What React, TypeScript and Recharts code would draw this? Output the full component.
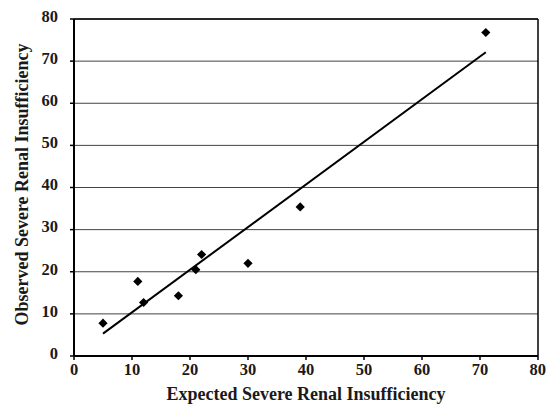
import { ScatterChart, Scatter, XAxis, YAxis, CartesianGrid, ReferenceLine, Label } from "recharts";

const EXPECTED = [5, 11, 12, 18, 21, 22, 30, 39, 71];
const OBSERVED = [7.8, 17.7, 12.7, 14.3, 20.5, 24.1, 22.0, 35.4, 76.8];

const FIT_X = [5, 71];
const FIT_Y = [5.3, 72.1];

const TICKS = [0, 10, 20, 30, 40, 50, 60, 70, 80];

const FONT = "'Liberation Serif', 'DejaVu Serif', serif";

const points = EXPECTED.map((x, i) => ({ x, y: OBSERVED[i] }));
const fit = FIT_X.map((x, i) => ({ x, y: FIT_Y[i] }));

function Diamond(props: any) {
  const { cx, cy } = props;
  const r = 4.6;
  return <polygon points={`${cx},${cy - r} ${cx + r},${cy} ${cx},${cy + r} ${cx - r},${cy}`} fill="#000" />;
}

function YTitle(props: any) {
  const { viewBox } = props;
  const cx = 22;
  const cy = viewBox.y + viewBox.height / 2 - 3;
  return (
    <text
      x={cx}
      y={cy}
      transform={`rotate(-90, ${cx}, ${cy})`}
      textAnchor="middle"
      dominantBaseline="central"
      fontFamily={FONT}
      fontWeight="bold"
      fontSize={18}
      fill="#1a1a1a"
    >
      Observed Severe Renal Insufficiency
    </text>
  );
}

export default function App() {
  const tickStyle = { fill: "#1a1a1a", fontSize: 16.5, fontWeight: "bold" as const, fontFamily: FONT };
  return (
    <div style={{ position: "absolute", left: 0, top: 0, background: "#fff" }}>
      <ScatterChart width={546} height={406} margin={{ top: 19, right: 8, left: 0, bottom: 0 }}>
        <CartesianGrid vertical={false} stroke="#444" strokeWidth={1} horizontalValues={TICKS} />
        <XAxis
          type="number"
          dataKey="x"
          domain={[0, 80]}
          ticks={TICKS}
          height={50}
          stroke="#000"
          axisLine={{ stroke: "#000", strokeWidth: 2 }}
          tickLine={{ stroke: "#000", strokeWidth: 1.5 }}
          tickSize={4}
          tickMargin={3}
          tick={tickStyle}
        >
          <Label
            value="Expected Severe Renal Insufficiency"
            position="insideBottom"
            offset={6}
            style={{ fontFamily: FONT, fontWeight: "bold", fontSize: 18, fill: "#1a1a1a" }}
          />
        </XAxis>
        <YAxis
          type="number"
          dataKey="y"
          domain={[0, 80]}
          ticks={TICKS}
          width={74}
          stroke="#000"
          axisLine={{ stroke: "#000", strokeWidth: 2 }}
          tickLine={{ stroke: "#000", strokeWidth: 1.5 }}
          tickSize={4}
          tickMargin={12}
          tick={{ ...tickStyle, dy: -3 }}
        >
          <Label content={<YTitle />} position="center" />
        </YAxis>
        <ReferenceLine y={80} stroke="#000" strokeWidth={1.5} />
        <ReferenceLine x={80} stroke="#000" strokeWidth={1.5} />
        <Scatter
          data={fit}
          line={{ stroke: "#000", strokeWidth: 2 }}
          shape={() => null}
          isAnimationActive={false}
        />
        <Scatter data={points} shape={<Diamond />} isAnimationActive={false} />
      </ScatterChart>
    </div>
  );
}
